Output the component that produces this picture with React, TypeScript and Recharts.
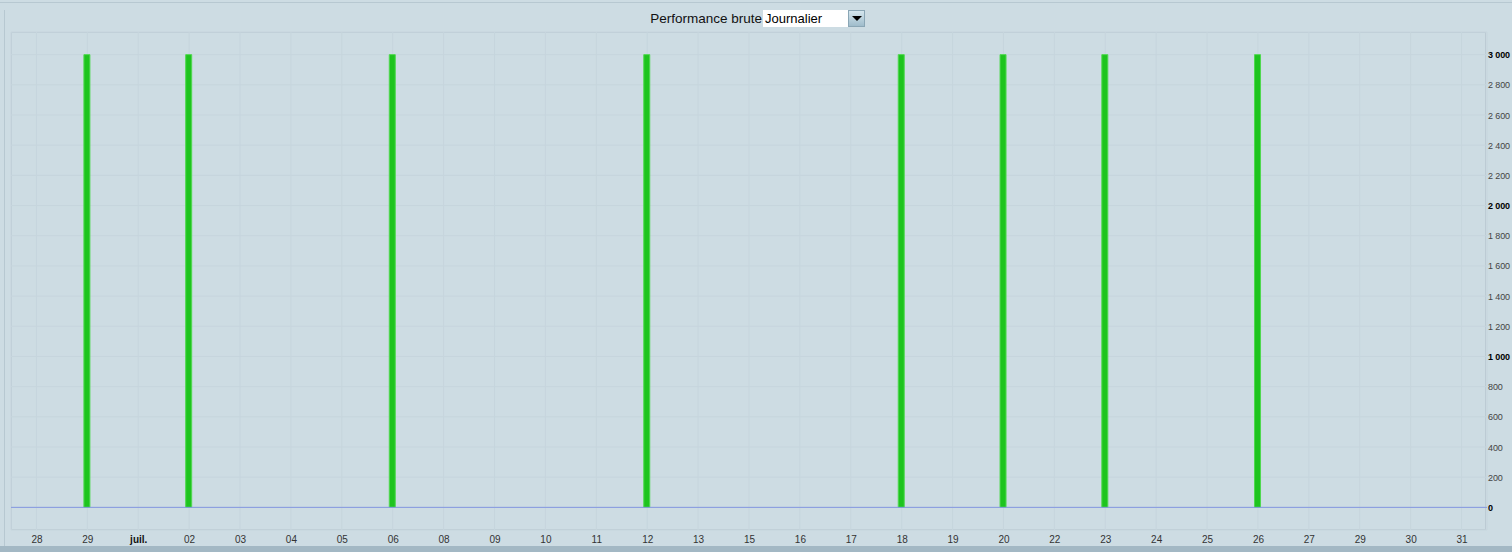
import React from 'react';
import { BarChart, Bar, XAxis, YAxis, CartesianGrid, ReferenceLine } from 'recharts';

const categories = ['28', '29', 'juil.', '02', '03', '04', '05', '06', '08', '09', '10', '11', '12', '13', '15', '16', '17', '18', '19', '20', '22', '23', '24', '25', '26', '27', '29 ', '30', '31'];
const values: (number | null)[] = [null, 3000, null, 3000, null, null, null, 3000, null, null, null, null, 3000, null, null, null, null, 3000, null, 3000, null, 3000, null, null, 3000, null, null, null, null];
const yTicks = [0, 200, 400, 600, 800, 1000, 1200, 1400, 1600, 1800, 2000, 2200, 2400, 2600, 2800, 3000];
const boldYTicks = [0, 1000, 2000, 3000];
const boldXTicks = ['juil.'];

const data = categories.map((c, i) => ({ day: c, value: values[i] }));

const fmt = (v: number) => {
  const s = String(v);
  return s.length > 3 ? s.slice(0, s.length - 3) + ' ' + s.slice(-3) : s;
};

const XTick = (props: any) => {
  const { x, y, payload } = props;
  const bold = boldXTicks.includes(payload.value);
  return (
    <text x={x + 0.5} y={y + 5} textAnchor="middle" fontSize={10} fontFamily="Arial, 'Liberation Sans', sans-serif" fill={bold ? '#111' : '#333'} fontWeight={bold ? 'bold' : 'normal'}>
      {String(payload.value).trim()}
    </text>
  );
};

const YTick = (props: any) => {
  const { x, y, payload } = props;
  const bold = boldYTicks.includes(payload.value);
  return (
    <text x={x} y={y + 3.5} textAnchor="start" fontSize={9} letterSpacing={-0.1} fontFamily="Arial, 'Liberation Sans', sans-serif" fill={bold ? '#000' : '#444'} fontWeight={bold ? 'bold' : 'normal'}>
      {fmt(payload.value)}
    </text>
  );
};

export default function App() {
  return (
    <div style={{ position: 'absolute', left: 0, top: 0, width: 1512, height: 552, background: '#cddce3', overflow: 'hidden', fontFamily: "Arial, 'Liberation Sans', sans-serif" }}>
      <div style={{ position: 'absolute', left: 0, top: 2, width: 1512, height: 1, background: '#b7c8d1' }} />
      <div style={{ position: 'absolute', left: 4, top: 10, width: 1, height: 536, background: '#b7c8d1' }} />
      <div style={{ position: 'absolute', left: 0, top: 546, width: 1512, height: 6, background: '#a3b8c4' }} />
      <div style={{ position: 'absolute', left: 11, top: 32, width: 1475, height: 498, border: '1px solid #bccbd4', boxSizing: 'border-box' }} />
      <div style={{ position: 'absolute', right: 1512 - 762, top: 10, fontSize: 13.5, color: '#111', lineHeight: '17px', whiteSpace: 'nowrap' }}>Performance brute</div>
      <div style={{ position: 'absolute', left: 763, top: 10, width: 85, height: 17, background: '#fff', fontSize: 13, lineHeight: '17px', color: '#000', paddingLeft: 2, boxSizing: 'border-box' }}>Journalier</div>
      <div style={{ position: 'absolute', left: 848, top: 10, width: 17, height: 17, background: 'linear-gradient(#d5e6ee, #9fbccb)', border: '1px solid #8aa6b5', boxSizing: 'border-box' }}>
        <div style={{ position: 'absolute', left: 3, top: 5, width: 0, height: 0, borderLeft: '5px solid transparent', borderRight: '5px solid transparent', borderTop: '5px solid #000' }} />
      </div>
      <div style={{ position: 'absolute', left: 1, top: 0 }}>
        <BarChart width={1511} height={552} data={data} margin={{ top: 32, right: 0, bottom: 6, left: 10 }} barCategoryGap={0}>
          <CartesianGrid stroke="#c6d5dd" strokeWidth={1} />
          <XAxis dataKey="day" interval={0} tickLine={false} axisLine={false} height={16} tick={<XTick />} />
          <YAxis orientation="right" width={25} domain={[-150, 3150]} ticks={yTicks} allowDataOverflow tickLine={false} axisLine={false} tickSize={0} tickMargin={1} tick={<YTick />} />
          <ReferenceLine y={0} stroke="#8598e0" strokeWidth={1} />
          <Bar dataKey="value" barSize={6} fill="#1ec41e" stroke="#4fd84f" strokeWidth={1} isAnimationActive={false} />
        </BarChart>
      </div>
    </div>
  );
}
